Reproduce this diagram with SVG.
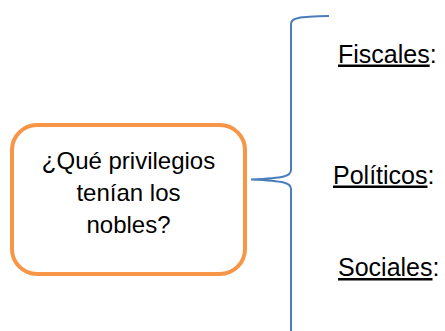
<svg xmlns="http://www.w3.org/2000/svg" width="445" height="331" viewBox="0 0 445 331">
<style>
.q{font-family:"Liberation Sans",Arial,sans-serif;font-size:24px;fill:#000;text-anchor:middle}
.lbl{font-family:"Liberation Sans",Arial,sans-serif;font-size:25px;fill:#000}
.u{text-decoration:underline}
.brace{fill:none;stroke:#4A7EBB;stroke-width:2}
</style>
<rect x="0" y="0" width="445" height="331" fill="#fff"/>
<g id="question">
<rect x="12" y="125" width="233" height="149" rx="25" ry="25" fill="#fff" stroke="#F79646" stroke-width="4"/>
<text class="q" x="128.5" y="169">¿Qué privilegios</text>
<text class="q" x="128.5" y="201">tenían los</text>
<text class="q" x="128.5" y="233">nobles?</text>
</g>
<g id="connectors">
<path class="brace" d="M329,16 C298,16.5 291,18 291,24 L291,170 C291,176 285,178 251,179.5 C285,181 291,183 291,189 L291,331"/>
</g>
<g id="fiscales">
<text class="lbl" x="338" y="62.5"><tspan class="u">Fiscales</tspan>:</text>
</g>
<g id="politicos">
<text class="lbl" x="333" y="183.5"><tspan class="u">Políticos</tspan>:</text>
</g>
<g id="sociales">
<text class="lbl" x="338" y="276"><tspan class="u">Sociales</tspan>:</text>
</g>
</svg>
